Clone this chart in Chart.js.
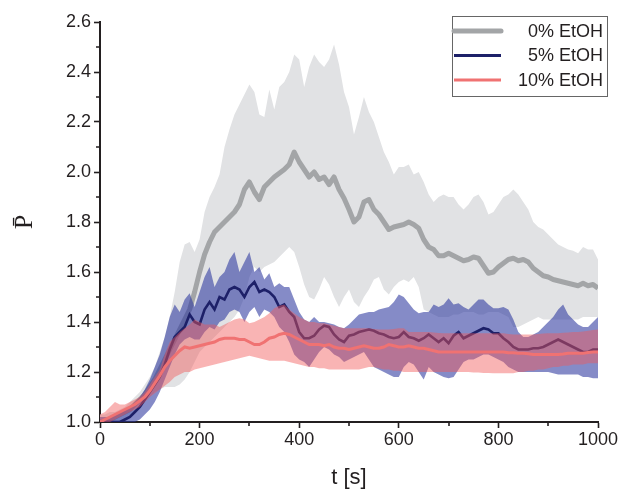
<!DOCTYPE html>
<html>
<head>
<meta charset="utf-8">
<script src="https://cdn.jsdelivr.net/npm/chart.js@4.4.1/dist/chart.umd.min.js"></script>
<style>
html,body{margin:0;padding:0;background:#fff;}
#wrap{width:624px;height:492px;}
</style>
</head>
<body>
<div id="wrap"><canvas id="c" width="624" height="492"></canvas></div>
<script>
// time axis (s)
const T = [0,10,20,30,40,50,60,70,80,90,100,110,120,130,140,150,160,170,180,190,200,210,220,230,240,250,260,270,280,290,300,310,320,330,340,350,360,370,380,390,400,410,420,430,440,450,460,470,480,490,500,510,520,530,540,550,560,570,580,590,600,610,620,630,640,650,660,670,680,690,700,710,720,730,740,750,760,770,780,790,800,810,820,830,840,850,860,870,880,890,900,910,920,930,940,950,960,970,980,990,1000];

// 0% EtOH
const g_mean = [1.00,1.00,1.01,1.02,1.03,1.04,1.05,1.07,1.09,1.11,1.14,1.17,1.21,1.25,1.29,1.33,1.37,1.41,1.45,1.52,1.60,1.67,1.72,1.76,1.78,1.80,1.82,1.84,1.87,1.93,1.96,1.92,1.89,1.94,1.96,1.98,1.995,2.01,2.03,2.08,2.04,2.01,1.98,2.00,1.97,1.98,1.95,1.98,1.93,1.895,1.85,1.80,1.82,1.88,1.89,1.85,1.83,1.80,1.77,1.78,1.785,1.79,1.80,1.79,1.775,1.73,1.70,1.69,1.665,1.665,1.675,1.665,1.655,1.645,1.65,1.66,1.655,1.625,1.595,1.60,1.62,1.635,1.65,1.655,1.645,1.65,1.64,1.615,1.60,1.585,1.58,1.57,1.565,1.56,1.555,1.55,1.545,1.555,1.545,1.55,1.535];
const g_hi = [1.03,1.03,1.04,1.04,1.05,1.06,1.08,1.10,1.12,1.15,1.18,1.22,1.28,1.34,1.42,1.52,1.64,1.71,1.72,1.68,1.73,1.84,1.90,1.94,1.99,2.10,2.17,2.23,2.27,2.31,2.35,2.32,2.23,2.22,2.33,2.25,2.34,2.36,2.40,2.47,2.45,2.34,2.42,2.47,2.44,2.42,2.45,2.51,2.43,2.32,2.26,2.15,2.22,2.30,2.24,2.20,2.14,2.08,2.04,1.99,2.02,2.02,2.03,1.99,2.00,1.96,1.91,1.88,1.90,1.91,1.90,1.90,1.87,1.85,1.87,1.90,1.91,1.88,1.83,1.84,1.87,1.90,1.91,1.93,1.91,1.88,1.85,1.80,1.78,1.77,1.75,1.73,1.71,1.70,1.69,1.685,1.675,1.70,1.69,1.69,1.65];
const g_lo = [1.00,1.00,1.00,1.00,1.00,1.01,1.02,1.04,1.06,1.08,1.10,1.12,1.13,1.14,1.14,1.14,1.15,1.17,1.20,1.24,1.28,1.30,1.32,1.34,1.36,1.38,1.40,1.42,1.45,1.50,1.58,1.62,1.60,1.62,1.63,1.64,1.66,1.68,1.70,1.68,1.62,1.55,1.50,1.49,1.53,1.58,1.55,1.50,1.46,1.50,1.53,1.48,1.46,1.50,1.53,1.57,1.58,1.53,1.51,1.54,1.56,1.57,1.56,1.58,1.54,1.45,1.44,1.43,1.42,1.42,1.42,1.43,1.43,1.44,1.44,1.44,1.43,1.43,1.44,1.44,1.44,1.43,1.42,1.38,1.38,1.39,1.40,1.41,1.42,1.41,1.41,1.41,1.41,1.41,1.41,1.41,1.41,1.42,1.42,1.42,1.42];

// 5% EtOH
const b_mean = [1.00,1.00,1.00,1.00,1.00,1.01,1.02,1.04,1.06,1.09,1.12,1.15,1.18,1.23,1.29,1.34,1.36,1.38,1.43,1.40,1.39,1.45,1.48,1.45,1.50,1.49,1.53,1.54,1.53,1.50,1.54,1.56,1.52,1.53,1.52,1.50,1.46,1.47,1.44,1.42,1.36,1.335,1.335,1.345,1.37,1.385,1.38,1.35,1.33,1.32,1.345,1.35,1.36,1.365,1.37,1.365,1.355,1.35,1.34,1.335,1.34,1.36,1.34,1.335,1.325,1.335,1.35,1.335,1.32,1.335,1.315,1.345,1.36,1.335,1.345,1.355,1.365,1.375,1.37,1.355,1.355,1.335,1.32,1.30,1.29,1.29,1.29,1.295,1.295,1.30,1.31,1.32,1.33,1.32,1.31,1.30,1.29,1.28,1.28,1.29,1.29];
const b_hi = [1.02,1.02,1.02,1.03,1.04,1.05,1.06,1.08,1.10,1.13,1.17,1.22,1.27,1.34,1.42,1.47,1.44,1.49,1.515,1.46,1.52,1.58,1.62,1.54,1.58,1.60,1.65,1.68,1.60,1.64,1.68,1.60,1.62,1.57,1.595,1.54,1.555,1.54,1.54,1.49,1.44,1.41,1.40,1.42,1.40,1.40,1.395,1.39,1.38,1.375,1.39,1.41,1.43,1.435,1.44,1.44,1.45,1.455,1.46,1.48,1.51,1.50,1.475,1.45,1.435,1.44,1.44,1.47,1.46,1.47,1.495,1.47,1.475,1.46,1.45,1.47,1.49,1.49,1.47,1.455,1.455,1.46,1.45,1.41,1.36,1.34,1.34,1.35,1.36,1.38,1.40,1.42,1.45,1.47,1.43,1.41,1.39,1.38,1.38,1.40,1.42];
const b_lo = [1.00,1.00,1.00,1.00,1.00,1.00,1.00,1.00,1.01,1.03,1.05,1.08,1.12,1.17,1.22,1.27,1.31,1.33,1.34,1.33,1.33,1.36,1.38,1.37,1.40,1.41,1.44,1.45,1.44,1.40,1.44,1.46,1.42,1.45,1.44,1.42,1.38,1.36,1.32,1.27,1.25,1.24,1.22,1.25,1.28,1.30,1.29,1.27,1.26,1.24,1.25,1.26,1.27,1.28,1.25,1.22,1.21,1.20,1.19,1.18,1.18,1.22,1.24,1.23,1.20,1.17,1.22,1.20,1.19,1.18,1.175,1.18,1.21,1.24,1.25,1.25,1.26,1.27,1.27,1.26,1.25,1.24,1.22,1.21,1.20,1.20,1.20,1.20,1.20,1.20,1.20,1.195,1.19,1.19,1.19,1.19,1.19,1.18,1.18,1.175,1.175];

// 10% EtOH
const r_mean = [1.00,1.01,1.02,1.03,1.04,1.05,1.06,1.07,1.085,1.10,1.125,1.155,1.185,1.22,1.245,1.265,1.285,1.30,1.295,1.30,1.305,1.31,1.315,1.32,1.33,1.335,1.335,1.335,1.33,1.33,1.32,1.31,1.31,1.32,1.335,1.34,1.35,1.355,1.35,1.34,1.33,1.32,1.31,1.31,1.31,1.305,1.31,1.30,1.295,1.295,1.29,1.295,1.30,1.305,1.30,1.295,1.295,1.30,1.31,1.305,1.30,1.30,1.305,1.30,1.295,1.295,1.29,1.285,1.28,1.28,1.28,1.28,1.28,1.28,1.28,1.28,1.28,1.28,1.28,1.28,1.28,1.28,1.277,1.277,1.275,1.275,1.273,1.27,1.27,1.27,1.27,1.27,1.27,1.272,1.275,1.275,1.275,1.275,1.278,1.28,1.28];
const r_hi = [1.03,1.04,1.06,1.08,1.07,1.07,1.08,1.09,1.10,1.12,1.15,1.18,1.21,1.27,1.32,1.34,1.36,1.375,1.39,1.41,1.40,1.39,1.39,1.39,1.38,1.39,1.40,1.41,1.415,1.41,1.395,1.40,1.41,1.42,1.435,1.455,1.465,1.47,1.45,1.435,1.42,1.41,1.40,1.40,1.395,1.395,1.39,1.385,1.38,1.375,1.375,1.375,1.375,1.375,1.375,1.372,1.37,1.37,1.37,1.372,1.375,1.375,1.36,1.36,1.36,1.36,1.36,1.358,1.356,1.355,1.355,1.355,1.355,1.355,1.355,1.355,1.355,1.355,1.355,1.355,1.355,1.355,1.352,1.35,1.35,1.35,1.35,1.35,1.352,1.354,1.355,1.355,1.355,1.357,1.358,1.36,1.36,1.362,1.365,1.368,1.37];
const r_lo = [1.00,1.00,1.00,1.01,1.02,1.03,1.04,1.05,1.06,1.08,1.10,1.115,1.13,1.145,1.16,1.18,1.19,1.20,1.20,1.21,1.215,1.22,1.225,1.23,1.235,1.24,1.245,1.25,1.255,1.26,1.265,1.26,1.255,1.25,1.245,1.245,1.245,1.245,1.24,1.235,1.23,1.225,1.22,1.22,1.215,1.215,1.21,1.21,1.21,1.21,1.21,1.21,1.21,1.215,1.22,1.22,1.215,1.21,1.21,1.205,1.205,1.20,1.20,1.20,1.20,1.20,1.20,1.20,1.20,1.20,1.20,1.20,1.20,1.20,1.20,1.198,1.198,1.196,1.196,1.195,1.195,1.195,1.195,1.195,1.20,1.20,1.205,1.205,1.21,1.21,1.215,1.22,1.22,1.225,1.225,1.23,1.23,1.23,1.235,1.235,1.235];

const xTicks = [0,200,400,600,800,1000];
const yTicks = [1.0,1.2,1.4,1.6,1.8,2.0,2.2,2.4,2.6];
const xMinor = [100,300,500,700,900];
const yMinor = [1.1,1.3,1.5,1.7,1.9,2.1,2.3,2.5];
const labels = ['0% EtOH','5% EtOH','10% EtOH'];

const pts = a => a.map((v,i)=>({x:T[i], y:v}));

const C = {
  gBand:'#e1e2e4', gLine:'#a3a5a7',
  bBand:'rgba(45,55,158,0.58)', bLine:'#1d2068',
  rBand:'rgba(242,88,88,0.45)', rLine:'#f07272'
};

const hidden = {borderWidth:0, pointRadius:0, fill:false, showLine:true};
const datasets = [
  Object.assign({label:'g_lo', data:pts(g_lo), order:90}, hidden),
  Object.assign({label:'g_hi', data:pts(g_hi), order:90}, hidden, {fill:{target:0}, backgroundColor:C.gBand}),
  {label:labels[0], data:pts(g_mean), order:80, borderColor:C.gLine, borderWidth:5, pointRadius:0, fill:false, borderJoinStyle:'round'},
  Object.assign({label:'b_lo', data:pts(b_lo), order:70}, hidden),
  Object.assign({label:'b_hi', data:pts(b_hi), order:70}, hidden, {fill:{target:3}, backgroundColor:C.bBand}),
  {label:labels[1], data:pts(b_mean), order:60, borderColor:C.bLine, borderWidth:2.6, pointRadius:0, fill:false},
  Object.assign({label:'r_lo', data:pts(r_lo), order:50}, hidden),
  Object.assign({label:'r_hi', data:pts(r_hi), order:50}, hidden, {fill:{target:6}, backgroundColor:C.rBand}),
  {label:labels[2], data:pts(r_mean), order:40, borderColor:C.rLine, borderWidth:3, pointRadius:0, fill:false}
];

const minorTicks = {
  id:'minorTicks',
  afterDraw(chart){
    const ctx = chart.ctx, xs = chart.scales.x, ys = chart.scales.y;
    ctx.save();
    ctx.strokeStyle = '#231f20'; ctx.lineWidth = 1.6;
    ctx.beginPath();
    xMinor.forEach(v=>{ const px = Math.round(xs.getPixelForValue(v)); ctx.moveTo(px, ys.bottom); ctx.lineTo(px, ys.bottom+4); });
    yMinor.forEach(v=>{ const py = Math.round(ys.getPixelForValue(v)); ctx.moveTo(xs.left, py); ctx.lineTo(xs.left-4, py); });
    ctx.stroke();
    ctx.restore();
  }
};

const boxLegend = {
  id:'boxLegend',
  afterDraw(chart){
    const ctx = chart.ctx;
    const items = [[2,5],[5,3],[8,3]];
    ctx.save();
    ctx.fillStyle = '#fff';
    ctx.fillRect(452,16,155,80);
    ctx.strokeStyle = '#666'; ctx.lineWidth = 1;
    ctx.strokeRect(452.5,16.5,155,80);
    ctx.font = '18px "Liberation Sans", Arial, sans-serif';
    ctx.textAlign = 'right'; ctx.textBaseline = 'middle';
    items.forEach((it,k)=>{
      const ds = chart.data.datasets[it[0]];
      const y = 31 + k*24.5;
      ctx.strokeStyle = ds.borderColor; ctx.lineWidth = it[1];
      ctx.lineCap = k===0 ? 'round' : 'butt';
      ctx.beginPath(); ctx.moveTo(454, y); ctx.lineTo(501, y); ctx.stroke();
      ctx.fillStyle = '#231f20';
      ctx.fillText(ds.label, 603, y+1);
    });
    ctx.restore();
  }
};

new Chart(document.getElementById('c'), {
  type:'line',
  data:{datasets},
  options:{
    responsive:false, animation:false, devicePixelRatio:1,
    layout:{padding:{left:0,right:26,top:22,bottom:0}},
    plugins:{legend:{display:false}, tooltip:{enabled:false},
      filler:{propagate:false, drawTime:'beforeDatasetDraw'}},
    elements:{line:{tension:0}},
    scales:{
      x:{type:'linear', min:0, max:1000,
        afterBuildTicks(s){ s.ticks = xTicks.map(v=>({value:v})); },
        afterFit(s){ s.height = 70; },
        ticks:{font:{family:'"Liberation Sans", Arial, sans-serif', size:18}, color:'#231f20', padding:1, maxRotation:0, callback:v=>String(v)},
        grid:{display:true, drawOnChartArea:false, drawTicks:true, tickLength:6, tickColor:'#231f20', tickWidth:1.6},
        border:{display:true, color:'#231f20', width:2},
        title:{display:true, text:'t [s]', font:{family:'"Liberation Sans", Arial, sans-serif', size:22}, color:'#231f20', padding:{top:0,bottom:1}}
      },
      y:{type:'linear', min:1.0, max:2.6,
        afterBuildTicks(s){ s.ticks = yTicks.map(v=>({value:v})); },
        afterFit(s){ s.width = 100; },
        ticks:{font:{family:'"Liberation Sans", Arial, sans-serif', size:18}, color:'#231f20', padding:3, callback:v=>Number(v).toFixed(1)},
        grid:{display:true, drawOnChartArea:false, drawTicks:true, tickLength:6, tickColor:'#231f20', tickWidth:1.6},
        border:{display:true, color:'#231f20', width:2},
        title:{display:true, text:'P\u0304', font:{family:'"Liberation Serif", "DejaVu Serif", serif', size:26}, color:'#231f20', padding:{top:10,bottom:0}}
      }
    }
  },
  plugins:[minorTicks, boxLegend]
});
</script>
</body>
</html>
